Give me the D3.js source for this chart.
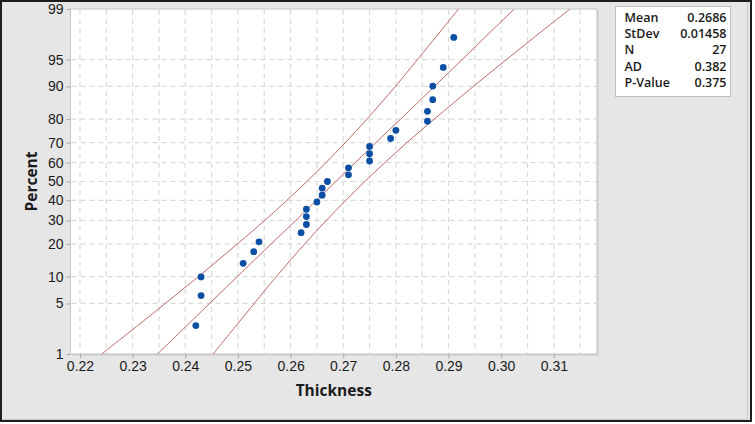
<!DOCTYPE html>
<html>
<head>
<meta charset="utf-8">
<script src="https://cdn.jsdelivr.net/npm/d3@7"></script>
<style>
    body { margin: 0; background: #ffffff; }
    svg { display: block; font-family: "Open Sans", "Noto Sans", sans-serif; }
</style>
</head>
<body>
<svg id="chart"></svg>
<script>
// sorted thickness values and their plotted percents
const thickness = [0.242, 0.243, 0.243, 0.251, 0.253, 0.254, 0.262, 0.263, 0.263, 0.263,
    0.265, 0.266, 0.266, 0.267, 0.271, 0.271, 0.275, 0.275, 0.275, 0.279,
    0.280, 0.286, 0.286, 0.287, 0.287, 0.289, 0.291];
const percents = [2.6, 6.2, 9.9, 13.5, 17.2, 20.8, 24.5, 28.1, 31.8, 35.4,
    39.1, 42.7, 46.4, 50.0, 53.6, 57.3, 60.9, 64.6, 68.2, 71.9,
    75.5, 79.2, 82.8, 86.5, 90.1, 93.8, 97.4];

// fitted line and 95% band, read along the percent axis
const bandPercents = [1, 2, 5, 10, 20, 30, 40, 50, 60, 70, 80, 90, 95, 98, 99];
const fitLine = [0.2347, 0.2387, 0.2446, 0.2499, 0.2563, 0.2610, 0.2649, 0.2686, 0.2723, 0.2762, 0.2809, 0.2873, 0.2926, 0.2985, 0.3025];
const bandLower = [0.2241, 0.2290, 0.2362, 0.2425, 0.2499, 0.2551, 0.2593, 0.2631, 0.2667, 0.2704, 0.2745, 0.2799, 0.2841, 0.2888, 0.2919];
const bandUpper = [0.2453, 0.2484, 0.2531, 0.2573, 0.2627, 0.2668, 0.2705, 0.2741, 0.2779, 0.2821, 0.2873, 0.2947, 0.3010, 0.3082, 0.3131];

const yTicks = [1, 5, 10, 20, 30, 40, 50, 60, 70, 80, 90, 95, 99];
const xTicks = [0.22, 0.23, 0.24, 0.25, 0.26, 0.27, 0.28, 0.29, 0.30, 0.31];
const xGrid = d3.range(0.22, 0.3175, 0.005);

const statLabels = ["Mean", "StDev", "N", "AD", "P-Value"];
const statValues = ["0.2686", "0.01458", "27", "0.382", "0.375"];

const width = 755, height = 424;
const plot = { left: 70.5, right: 597, top: 9, bottom: 354 };

// inverse normal cdf (Acklam) for the probability axis
function probit(p) {
    const a = [-39.6968302866538, 220.946098424521, -275.928510446969, 138.357751867269, -30.6647980661472, 2.50662827745924];
    const b = [-54.4760987982241, 161.585836858041, -155.698979859887, 66.8013118877197, -13.2806815528857];
    const c = [-0.00778489400243029, -0.322396458041136, -2.40075827716184, -2.54973253934373, 4.37466414146497, 2.93816398269878];
    const d = [0.00778469570904146, 0.32246712907004, 2.445134137143, 3.75440866190742];
    const pl = 0.02425;
    let q, r;
    if (p < pl) {
        q = Math.sqrt(-2 * Math.log(p));
        return (((((c[0] * q + c[1]) * q + c[2]) * q + c[3]) * q + c[4]) * q + c[5]) / ((((d[0] * q + d[1]) * q + d[2]) * q + d[3]) * q + 1);
    }
    if (p > 1 - pl) {
        q = Math.sqrt(-2 * Math.log(1 - p));
        return -(((((c[0] * q + c[1]) * q + c[2]) * q + c[3]) * q + c[4]) * q + c[5]) / ((((d[0] * q + d[1]) * q + d[2]) * q + d[3]) * q + 1);
    }
    q = p - 0.5;
    r = q * q;
    return (((((a[0] * r + a[1]) * r + a[2]) * r + a[3]) * r + a[4]) * r + a[5]) * q / (((((b[0] * r + b[1]) * r + b[2]) * r + b[3]) * r + b[4]) * r + 1);
}

const xScale = d3.scaleLinear().domain([0.2182, 0.3182]).range([plot.left, plot.right]);
const zScale = d3.scaleLinear().domain([probit(0.01), probit(0.99)]).range([plot.bottom, plot.top]);
const yScale = pct => zScale(probit(pct / 100));

const svg = d3.select("#chart").attr("width", width).attr("height", height);

// graph region and frame
svg.append("rect")
    .attr("x", 1).attr("y", 1).attr("width", 750).attr("height", 420)
    .attr("fill", "#e6e6e6")
    .attr("stroke", "#1e1e1e").attr("stroke-width", 2);
svg.append("path")
    .attr("d", "M2,419.5H747.5V2")
    .attr("fill", "none").attr("stroke", "#c9c9c9");

// data region
svg.append("rect")
    .attr("x", plot.left + 1.5).attr("y", plot.top + 1.5)
    .attr("width", plot.right - plot.left).attr("height", plot.bottom - plot.top)
    .attr("fill", "#cdcdcd");
svg.append("rect")
    .attr("x", plot.left).attr("y", plot.top)
    .attr("width", plot.right - plot.left).attr("height", plot.bottom - plot.top)
    .attr("fill", "#ffffff")
    .attr("stroke", "#c4c4c4").attr("stroke-width", 1);

const grid = svg.append("g")
    .attr("stroke", "#dadada").attr("stroke-width", 1.2)
    .attr("stroke-dasharray", "5,4");
grid.selectAll(".vgrid")
    .data(xGrid)
    .join("line")
    .attr("class", "vgrid")
    .attr("x1", d => xScale(d)).attr("x2", d => xScale(d))
    .attr("y1", plot.top + 1).attr("y2", plot.bottom - 1);
grid.selectAll(".hgrid")
    .data(yTicks.slice(1, -1))
    .join("line")
    .attr("class", "hgrid")
    .attr("x1", plot.left + 1).attr("x2", plot.right - 1)
    .attr("y1", d => yScale(d)).attr("y2", d => yScale(d));

// axes
const yAxis = svg.append("g")
    .attr("transform", `translate(${plot.left}, 0)`)
    .call(d3.axisLeft(zScale)
        .tickValues(yTicks.map(p => probit(p / 100)))
        .tickFormat((d, i) => yTicks[i])
        .tickSize(4).tickPadding(3));
yAxis.select(".domain").remove();
yAxis.selectAll(".tick line").attr("stroke", "#a8a8a8");
yAxis.selectAll(".tick text")
    .attr("fill", "#1a1a1a")
    .style("font-size", "14px");

const xAxis = svg.append("g")
    .attr("transform", `translate(0, ${plot.bottom})`)
    .call(d3.axisBottom(xScale)
        .tickValues(xTicks)
        .tickFormat(d3.format(".2f"))
        .tickSize(4).tickPadding(3));
xAxis.select(".domain").remove();
xAxis.selectAll(".tick line").attr("stroke", "#a8a8a8");
xAxis.selectAll(".tick text")
    .attr("fill", "#1a1a1a")
    .style("font-size", "14px");

svg.append("text")
    .attr("x", (plot.left + plot.right) / 2)
    .attr("y", 396)
    .attr("text-anchor", "middle")
    .attr("fill", "#1a1a1a")
    .style("font-size", "15.5px").style("font-weight", "bold")
    .text("Thickness");

svg.append("text")
    .attr("transform", "rotate(-90)")
    .attr("x", -((plot.top + plot.bottom) / 2))
    .attr("y", 37)
    .attr("text-anchor", "middle")
    .attr("fill", "#1a1a1a")
    .style("font-size", "15.5px").style("font-weight", "bold")
    .text("Percent");

// fit line and confidence band
svg.append("clipPath").attr("id", "plot-clip")
    .append("rect")
    .attr("x", plot.left).attr("y", plot.top)
    .attr("width", plot.right - plot.left).attr("height", plot.bottom - plot.top);

const line = d3.line()
    .x(d => xScale(d[0]))
    .y(d => yScale(d[1]))
    .curve(d3.curveCatmullRom);

svg.append("g")
    .attr("clip-path", "url(#plot-clip)")
    .selectAll("path")
    .data([bandLower, fitLine, bandUpper])
    .join("path")
    .attr("d", s => line(s.map((v, i) => [v, bandPercents[i]])))
    .attr("fill", "none")
    .attr("stroke", "#b96a68")
    .attr("stroke-width", 1);

// data points
svg.append("g")
    .selectAll("circle")
    .data(thickness.map((t, i) => ({ t: t, p: percents[i] })))
    .join("circle")
    .attr("cx", d => xScale(d.t))
    .attr("cy", d => yScale(d.p))
    .attr("r", 3.4)
    .attr("fill", "#0b4fa5");

// statistics box
const legend = svg.append("g");
legend.append("rect")
    .attr("x", 615.5).attr("y", 6.5)
    .attr("width", 115).attr("height", 90)
    .attr("fill", "#ffffff")
    .attr("stroke", "#bdbdbd");
legend.selectAll(".stat-label")
    .data(statLabels)
    .join("text")
    .attr("class", "stat-label")
    .attr("x", 624.5)
    .attr("y", (d, i) => 22 + i * 16.2)
    .attr("fill", "#1a1a1a")
    .style("font-size", "12.5px").style("font-weight", "600")
    .text(d => d);
legend.selectAll(".stat-value")
    .data(statValues)
    .join("text")
    .attr("class", "stat-value")
    .attr("x", 726.5)
    .attr("y", (d, i) => 22 + i * 16.2)
    .attr("text-anchor", "end")
    .attr("fill", "#1a1a1a")
    .style("font-size", "12.5px").style("font-weight", "600")
    .text(d => d);
</script>
</body>
</html>
